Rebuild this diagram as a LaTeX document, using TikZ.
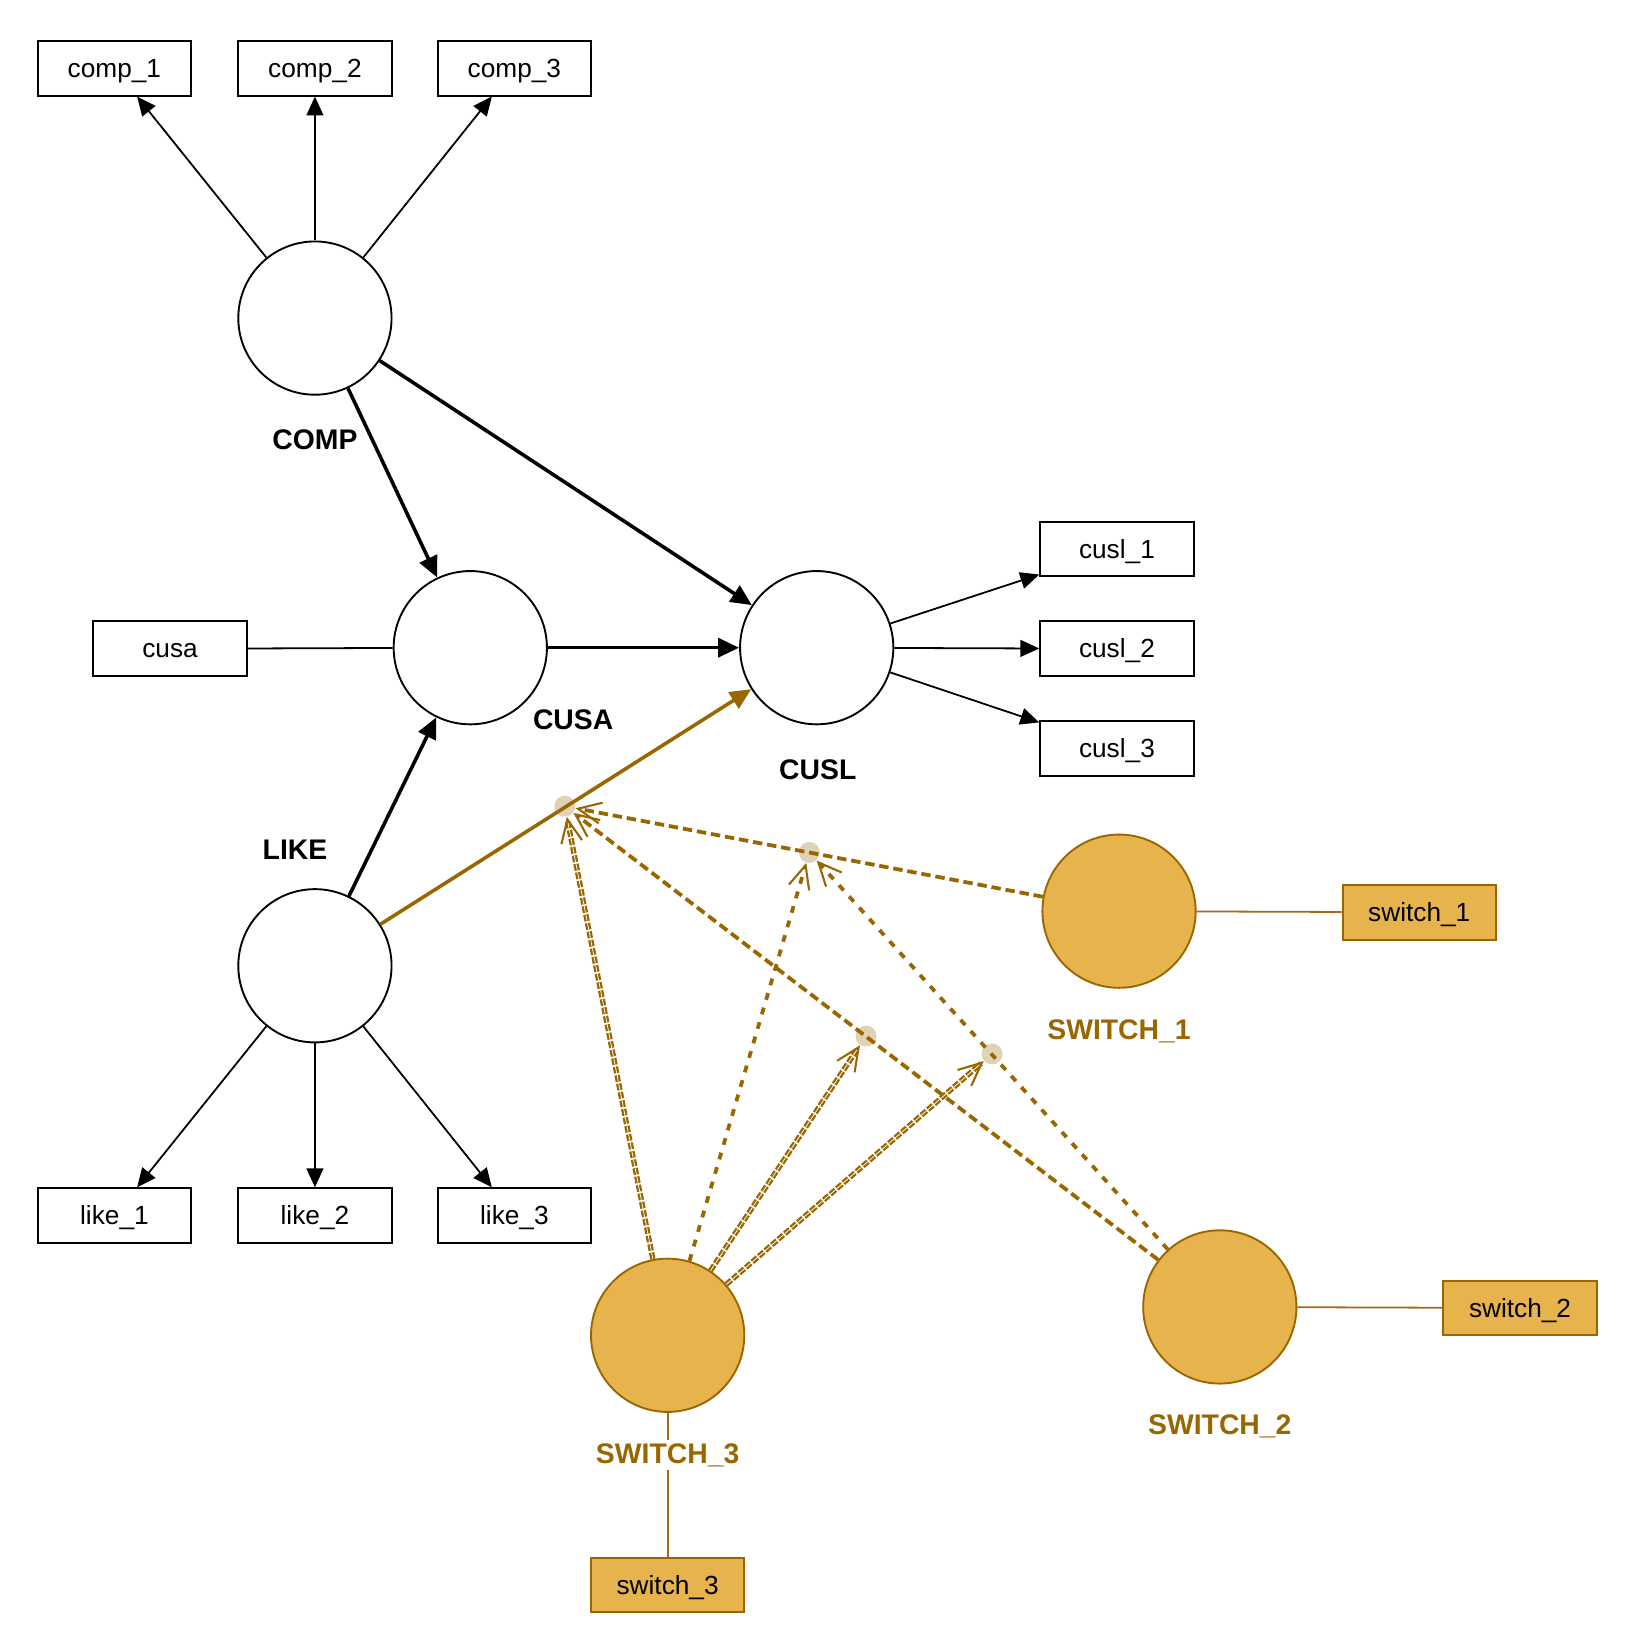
\documentclass[tikz,border=0pt]{standalone}
\usepackage{fontspec}
\setmainfont{Liberation Sans}
\usetikzlibrary{arrows.meta}
\definecolor{gold}{HTML}{996600}
\definecolor{goldfill}{HTML}{E6B34C}
\definecolor{dotc}{HTML}{E0D3B5}
\definecolor{linkc}{HTML}{A8681A}
\begin{document}
\begin{tikzpicture}[x=0.5pt,y=-0.5pt,
  lat/.style={circle,draw,line width=0.9pt,minimum size=73pt,inner sep=0pt},
  sw/.style={lat,draw=gold,fill=goldfill},
  box/.style={draw,line width=0.95pt,minimum width=73pt,minimum height=26pt,inner sep=0pt,text height=11pt,text depth=2.4pt,font=\fontsize{12.5}{14}\selectfont},
  swbox/.style={box,draw=gold,fill=goldfill},
  lab/.style={font=\bfseries\fontsize{13.5}{15}\selectfont,fill=white,inner sep=1.5pt},
  swlab/.style={lab,text=gold},
  idot/.style={circle,fill=dotc,minimum size=10pt,inner sep=0pt},
  thinarr/.style={line width=0.85pt,-{Triangle[length=9pt,width=8pt]}},
  thickarr/.style={line width=1.7pt,-{Triangle[length=10pt,width=9pt]}},
  link/.style={line width=0.85pt},
  swlink/.style={linkc,line width=0.85pt},
  barb/.style={-{Straight Barb[length=11pt,width=10pt,line width=1pt]}},
  dsh/.style={gold,line width=1.8pt,dash pattern=on 4.5pt off 2.3pt,barb},
  dtd/.style={gold,line width=1.8pt,dash pattern=on 3.3pt off 3.9pt,barb},
  dbl/.style={gold,line width=1.1pt,double=white,double distance=0.35pt,dash pattern=on 3.2pt off 0.9pt,barb}
]
\useasboundingbox (0,0) rectangle (1560,1568);

% interaction dots
\node[idot] (dA) at (538,768) {};
\node[idot] (dB) at (771,812) {};
\node[idot] (dC) at (825,987) {};
\node[idot] (dD) at (945,1004) {};

% latent variables
\node[lat] (COMP) at (300,303) {};
\node[lat] (CUSA) at (448,617) {};
\node[lat] (CUSL) at (778,617) {};
\node[lat] (LIKE) at (300,920) {};
\node[sw] (S1) at (1066,868) {};
\node[sw] (S2) at (1162,1245) {};
\node[sw] (S3) at (636,1272) {};

% indicators
\node[box] (c1) at (109,65) {comp\_1};
\node[box] (c2) at (300,65) {comp\_2};
\node[box] (c3) at (490,65) {comp\_3};
\node[box] (cusa) at (162,618) {cusa};
\node[box] (u1) at (1064,523) {cusl\_1};
\node[box] (u2) at (1064,618) {cusl\_2};
\node[box] (u3) at (1064,713) {cusl\_3};
\node[box] (k1) at (109,1158) {like\_1};
\node[box] (k2) at (300,1158) {like\_2};
\node[box] (k3) at (490,1158) {like\_3};
\node[swbox] (w1) at (1352,869) {switch\_1};
\node[swbox] (w2) at (1448,1246) {switch\_2};
\node[swbox] (w3) at (636,1510) {switch\_3};

% measurement
\draw[thinarr] (COMP) -- (c1);
\draw[thinarr] (COMP) -- (c2);
\draw[thinarr] (COMP) -- (c3);
\draw[thinarr] (LIKE) -- (k1);
\draw[thinarr] (LIKE) -- (k2);
\draw[thinarr] (LIKE) -- (k3);
\draw[thinarr] (CUSL) -- (u1);
\draw[thinarr] (CUSL) -- (u2);
\draw[thinarr] (CUSL) -- (u3);
\draw[link] (cusa) -- (CUSA);
\draw[swlink] (S1) -- (w1);
\draw[swlink] (S2) -- (w2);
\draw[swlink] (S3) -- (w3);

% structural
\draw[thickarr] (COMP) -- (CUSA);
\draw[thickarr] (COMP) -- (CUSL);
\draw[thickarr] (CUSA) -- (CUSL);
\draw[thickarr] (LIKE) -- (CUSA);
\draw[thickarr,gold] (LIKE) -- (CUSL);

% moderation
\draw[dsh] (S1) -- (dA);
\draw[dsh] (S2) -- (dA);
\draw[dtd] (S2) -- (dB);
\draw[dbl] (S3) -- (dA);
\draw[dtd] (S3) -- (dB);
\draw[dbl] (S3) -- (dC);
\draw[dbl] (S3) -- (dD);

% labels
\node[lab] (lCOMP) at (300,419) {COMP};
\node[lab] (lCUSA) at (546,686) {CUSA};
\node[lab] (lCUSL) at (779,733) {CUSL};
\node[lab] (lLIKE) at (281,809) {LIKE};
\node[swlab] (lS1) at (1066,982) {SWITCH\_1};
\node[swlab] (lS2) at (1162,1359) {SWITCH\_2};
\node[swlab] (lS3) at (636,1386) {SWITCH\_3};
\end{tikzpicture}
\end{document}
